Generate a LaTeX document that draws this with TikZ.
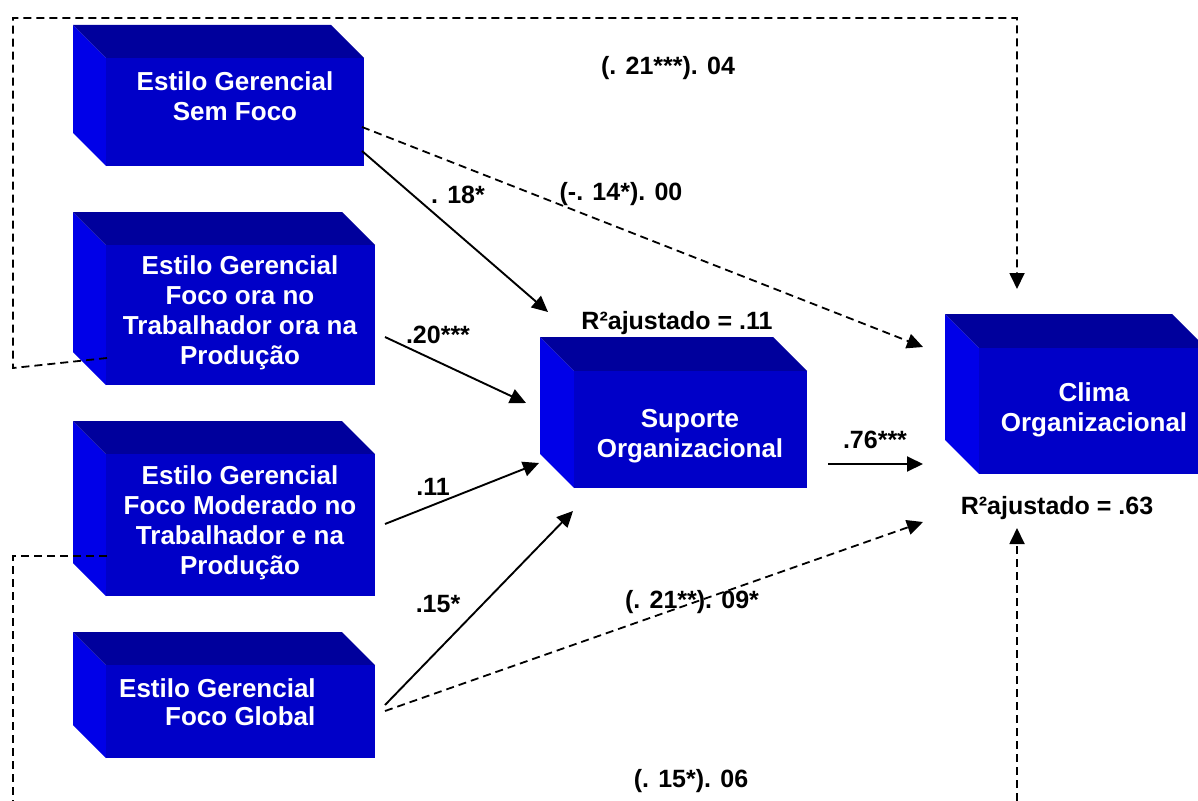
\documentclass[tikz,border=0pt]{standalone}
\usepackage{fontspec}
\setmainfont{Liberation Sans}
\usetikzlibrary{arrows.meta,fit}
\definecolor{leftc}{RGB}{0,0,232}
\definecolor{topc}{RGB}{0,0,156}
\definecolor{frontc}{RGB}{0,0,200}
\newcommand{\cubebox}[6]{%
  \fill[leftc] (#2,#3) -- (#2+#6,#3+#6) -- (#2+#6,#5) -- (#2,#5-#6) -- cycle;
  \fill[topc] (#2,#3) -- (#4-#6,#3) -- (#4,#3+#6) -- (#2+#6,#3+#6) -- cycle;
  \path (#2+#6,#3+#6) coordinate (#1-nw) (#4,#5) coordinate (#1-se);
  \node[fit=(#1-nw)(#1-se), inner sep=0pt, fill=frontc] (#1) {};
}
\tikzset{
  boxtext/.style={text=white, font=\fontsize{26}{30}\selectfont\bfseries, align=center, inner sep=0pt},
  lbl/.style={text=black, font=\fontsize{25}{30}\selectfont\bfseries, inner sep=0pt},
  solidarrow/.style={line width=1.9pt, -{Triangle[length=16pt,width=15pt]}},
  dasharrow/.style={line width=1.8pt, dash pattern=on 8pt off 5pt, -{Triangle[length=16pt,width=15pt]}}
}
\begin{document}
\begin{tikzpicture}[x=1pt,y=-1pt]
\useasboundingbox (0,0) rectangle (1198,800);
\clip (0,0) rectangle (1198,800);
% boxes
\cubebox{b1}{73}{25}{364}{166}{33}
\cubebox{b2}{73}{212}{375}{385}{33}
\cubebox{b3}{73}{421}{375}{596}{33}
\cubebox{b4}{73}{632}{375}{758}{33}
\cubebox{sup}{540}{337}{807}{488}{34}
\cubebox{cli}{945}{314}{1206}{474}{34}
% box texts
\node[boxtext] (t1) at (235,96) {Estilo Gerencial\\Sem Foco};
\node[boxtext] (t2) at (240,313) {Estilo Gerencial\\Foco ora no\\Trabalhador ora na\\Produção};
\node[boxtext] (t3) at (240,523) {Estilo Gerencial\\Foco Moderado no\\Trabalhador e na\\Produção};
\node[boxtext, align=left, anchor=west, font=\fontsize{26}{28}\selectfont\bfseries] (t4) at (119,702) {Estilo Gerencial\\\hspace*{46pt}Foco Global};
\node[boxtext] (t5) at (690,436) {Suporte\\Organizacional};
\node[boxtext] (t6) at (1094,410) {Clima\\Organizacional};
% connector end points
\coordinate (s1) at (362,151);
\coordinate (e1) at (548,312);
\coordinate (s2) at (362,127);
\coordinate (e2) at (923,347);
\coordinate (s3) at (385,337);
\coordinate (e3) at (526,403);
\coordinate (s4) at (385,524);
\coordinate (e4) at (539,463);
\coordinate (s5) at (385,705);
\coordinate (e5) at (573,511);
\coordinate (s6) at (385,711);
\coordinate (e6) at (923,522);
\coordinate (s7) at (828,464);
\coordinate (e7) at (923,464);
\coordinate (s8) at (107,358);
\coordinate (c8a) at (13,368);
\coordinate (c8b) at (13,18);
\coordinate (c8c) at (1017,18);
\coordinate (e8) at (1017,289);
\coordinate (s9) at (107,556);
\coordinate (c9a) at (13,556);
\coordinate (c9b) at (13,812);
\coordinate (c9c) at (1017,812);
\coordinate (e9) at (1017,528);
% labels
\node[lbl] (l1) at (458,195) {. 18*};
\node[lbl] (l2) at (621,194) {(-. 14*). 00};
\node[lbl] (l3) at (668,68) {(. 21***). 04};
\node[lbl] (l4) at (677,323) {R²ajustado = .11};
\node[lbl] (l5) at (438,335) {.20***};
\node[lbl] (l6) at (433,487) {.11};
\node[lbl] (l7) at (438,604) {.15*};
\node[lbl] (l8) at (692,602) {(. 21**). 09*};
\node[lbl] (l9) at (875,440) {.76***};
\node[lbl] (l10) at (1057,508) {R²ajustado = .63};
\node[lbl] (l11) at (691,781) {(. 15*). 06};
% connectors
\draw[solidarrow] (s1) -- (e1);
\draw[dasharrow] (s2) -- (e2);
\draw[solidarrow] (s3) -- (e3);
\draw[solidarrow] (s4) -- (e4);
\draw[solidarrow] (s5) -- (e5);
\draw[dasharrow] (s6) -- (e6);
\draw[solidarrow] (s7) -- (e7);
\draw[dasharrow] (s8) -- (c8a) -- (c8b) -- (c8c) -- (e8);
\draw[dasharrow] (s9) -- (c9a) -- (c9b) -- (c9c) -- (e9);
\end{tikzpicture}
\end{document}
